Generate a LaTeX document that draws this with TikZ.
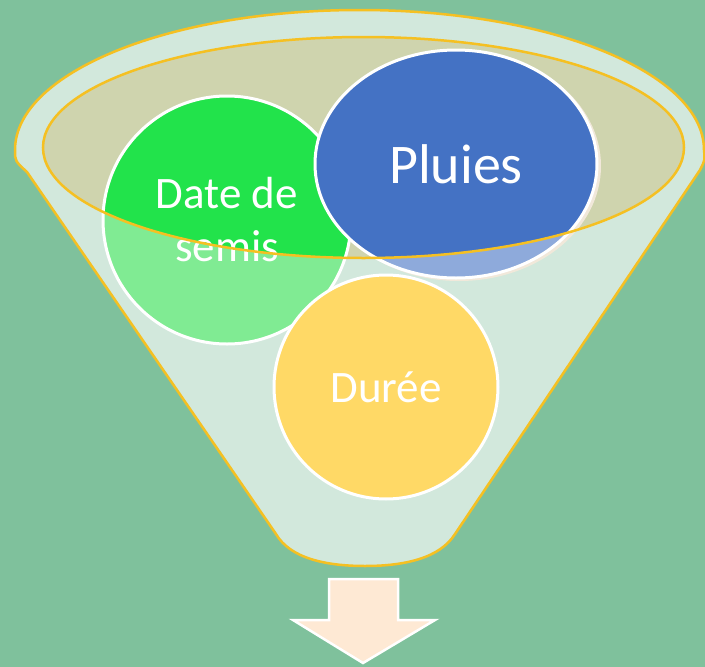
\documentclass[tikz,border=0pt]{standalone}
\usepackage{fontspec}
\setmainfont{Carlito}
\usetikzlibrary{shapes.geometric}
\definecolor{bgc}{HTML}{7FC19C}
\definecolor{funnelc}{HTML}{D2E8DC}
\definecolor{khakic}{HTML}{CFD4AE}
\definecolor{goldc}{HTML}{F5C022}
\definecolor{greenb}{HTML}{22E34B}
\definecolor{greenl}{HTML}{80EB93}
\definecolor{blueb}{HTML}{4472C4}
\definecolor{bluel}{HTML}{8EAADB}
\definecolor{yellowc}{HTML}{FFD966}
\definecolor{peachc}{HTML}{FEE9D4}
\definecolor{shadowc}{HTML}{F1E8DA}
\tikzset{
  goldline/.style={draw=goldc, line width=2.5pt},
  bubble/.style={draw=white, line width=3pt, text=white, inner sep=0pt, align=center},
  bigtext/.style={font=\fontsize{56}{64}\selectfont},
  midtext/.style={font=\fontsize{45}{53}\selectfont},
}
\begin{document}
\begin{tikzpicture}[x=1pt,y=-1pt]
\useasboundingbox (0,0) rectangle (705,667);
\fill[bgc] (0,0) rectangle (705,667);
% funnel body
\path[fill=funnelc, goldline, line join=round] (15,150)
  arc[start angle=180, end angle=360, x radius=344.5, y radius=140]
  .. controls (705,160) .. (700,170) -- (455,534)
  .. controls (440,558) and (405,566) .. (365,566)
  .. controls (325,566) and (290,558) .. (276,534)
  -- (27,172) .. controls (15,161) .. (15,150) -- cycle;
% opening
\fill[khakic] (363.5,147.5) ellipse[x radius=320.5, y radius=110.5];
% green circle
\fill[greenl] (227,220) circle[radius=124];
\begin{scope}
  \clip (363.5,147.5) ellipse[x radius=320.5, y radius=110.5];
  \fill[greenb] (227,220) circle[radius=124];
\end{scope}
\node[bubble, circle, minimum size=248pt, midtext] (semis) at (227,220) {Date de\\semis};
% blue ellipse
\fill[shadowc] (459,166) ellipse[x radius=142, y radius=115];
\fill[bluel] (456,164) ellipse[x radius=141, y radius=114];
\begin{scope}
  \clip (363.5,147.5) ellipse[x radius=320.5, y radius=110.5];
  \fill[blueb] (456,164) ellipse[x radius=141, y radius=114];
\end{scope}
\node[bubble, ellipse, minimum width=282pt, minimum height=228pt, bigtext] (pluies) at (456,164) {Pluies};
% yellow circle
\node[bubble, circle, fill=yellowc, minimum size=224pt, midtext] (duree) at (386,387) {Durée};
% opening rim
\draw[goldline] (363.5,147.5) ellipse[x radius=320.5, y radius=110.5];
% arrow
\draw[fill=peachc, draw=white, line width=2.5pt, line join=miter]
  (329,579) -- (398,579) -- (398,620) -- (435,620) -- (363,663) -- (293,620) -- (329,620) -- cycle;
\end{tikzpicture}
\end{document}
